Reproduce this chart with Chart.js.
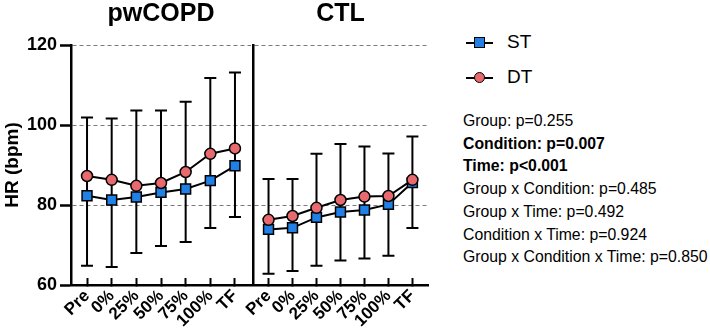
<!DOCTYPE html>
<html>
<head>
<meta charset="utf-8">
<script src="https://cdn.jsdelivr.net/npm/chart.js@4.4.1/dist/chart.umd.min.js"></script>
<style>
body{margin:0;background:#fff;}
#wrap{position:relative;width:710px;height:331px;background:#fff;font-family:"Liberation Sans",Arial,sans-serif;color:#000;}
canvas{position:absolute;top:0;}
.legItem{position:absolute;left:466px;height:20px;width:200px;}
.legLine{position:absolute;left:0;top:9px;width:27px;height:2px;background:#000;}
.legSq{position:absolute;left:8px;top:4px;width:9px;height:9px;background:#2080e6;border:1.5px solid #000;}
.legCirc{position:absolute;left:8px;top:4px;width:9px;height:9px;background:#e96a6e;border:1.5px solid #000;border-radius:50%;}
.legText{position:absolute;left:41px;top:-2px;font-size:19px;line-height:22px;}
#stats{position:absolute;left:463px;top:110px;font-size:15.8px;line-height:22.7px;white-space:nowrap;}
</style>
</head>
<body>
<div id="wrap">
<canvas id="copdChart" width="260" height="331" style="left:0"></canvas>
<canvas id="ctlChart" width="200" height="331" style="left:240px"></canvas>
<div class="legItem" style="top:33px"><div class="legLine"></div><div class="legSq"></div><div class="legText">ST</div></div>
<div class="legItem" style="top:68px"><div class="legLine"></div><div class="legCirc"></div><div class="legText">DT</div></div>
<div id="stats"></div>
</div>
<script>
// data (HR in bpm, mean and one-sided SD)
const timeLabels=["Pre","0%","25%","50%","75%","100%","TF"];
const yTicks=[60,80,100,120];

const copdST=[82.3,81.25,82.0,83.15,84.0,86.1,89.8];
const copdSTLow=[64.8,64.5,68.0,69.75,70.75,74.25,77.0];
const copdDT=[87.25,86.3,84.8,85.5,88.25,92.8,94.15];
const copdDTHigh=[101.9,101.65,103.6,103.6,105.8,111.75,113.15];

const ctlST=[73.9,74.3,76.9,78.25,78.75,80.15,85.6];
const ctlSTLow=[62.8,63.5,64.8,66.1,66.65,67.3,74.25];
const ctlDT=[76.3,77.25,79.3,81.25,82.1,82.25,86.3];
const ctlDTHigh=[86.5,86.5,92.8,95.25,94.6,92.9,97.15];

const statLines=[
["Group: p=0.255",false],
["Condition: p=0.007",true],
["Time: p<0.001",true],
["Group x Condition: p=0.485",false],
["Group x Time: p=0.492",false],
["Condition x Time: p=0.924",false],
["Group x Condition x Time: p=0.850",false]
];

const blue="#2080e6";
const red="#e96a6e";
const fam='"Liberation Sans", Arial, sans-serif';
Chart.defaults.font.family=fam;
Chart.defaults.color="#000";

let stats=document.getElementById("stats");
statLines.forEach(s=>{
let d=document.createElement("div");
d.innerText=s[0];
if(s[1]) d.style.fontWeight="bold";
stats.appendChild(d);
});

// vertical error bars: DT upwards, ST downwards
const errorBars={
id:"errorBars",
beforeDatasetsDraw(chart,args,opts){
let ctx=chart.ctx;
let x=chart.scales.x, y=chart.scales.y;
ctx.save();
ctx.strokeStyle="#000";
ctx.lineWidth=2;
opts.high.forEach((h,i)=>{
let px=x.getPixelForValue(i);
let top=y.getPixelForValue(h);
let bot=y.getPixelForValue(opts.low[i]);
ctx.beginPath();
ctx.moveTo(px,top);ctx.lineTo(px,bot);
ctx.moveTo(px-6,top);ctx.lineTo(px+6,top);
ctx.moveTo(px-6,bot);ctx.lineTo(px+6,bot);
ctx.stroke();
});
ctx.restore();
}
};

function pts(arr){
return arr.map((v,i)=>({x:i,y:v}));
}

function makeChart(id,title,st,stLow,dt,dtHigh,left){
let yAxis={
min:60,max:120,
afterBuildTicks:s=>{s.ticks=yTicks.map(v=>({value:v}));},
ticks:{display:left,font:{size:18,weight:"bold"},color:"#000",padding:3},
grid:{
color:c=>c.tick&&c.tick.value===60?"rgba(0,0,0,0)":"#7a7a7a",
lineWidth:1,
drawTicks:left,
tickLength:11,tickColor:"#000",tickWidth:2.5
},
border:{color:"#000",width:2.5,dash:[4,3]},
title:{display:left,text:"HR (bpm)",font:{size:19,weight:"bold"},color:"#000",padding:{top:1,bottom:0}},
afterFit:s=>{s.width=left?71:11;}
};
return new Chart(document.getElementById(id),{
type:"line",
data:{
datasets:[
{
label:"DT",
data:pts(dt),
borderColor:"#000",borderWidth:2,
pointStyle:"circle",pointRadius:5.5,
pointBackgroundColor:red,pointBorderColor:"#000",pointBorderWidth:1.5
},
{
label:"ST",
data:pts(st),
borderColor:"#000",borderWidth:2,
pointStyle:"rect",pointRadius:7,
pointBackgroundColor:blue,pointBorderColor:"#000",pointBorderWidth:1.5
}
]
},
options:{
responsive:false,
animation:false,
layout:{padding:{left:0,right:left?9:12,top:0,bottom:0}},
plugins:{
legend:{display:false},
tooltip:{enabled:false},
title:{display:true,text:title,fullSize:false,color:"#000",font:{size:25,weight:"bold",lineHeight:1.1},padding:{top:0,bottom:17.5}},
errorBars:{high:dtHigh,low:stLow}
},
scales:{
x:{
type:"linear",min:-0.65,max:6.65,
afterBuildTicks:s=>{s.ticks=timeLabels.map((_,i)=>({value:i}));},
ticks:{callback:v=>timeLabels[v],autoSkip:false,minRotation:45,maxRotation:45,font:{size:17,weight:"bold"},color:"#000",padding:8},
grid:{drawOnChartArea:false,tickLength:-7,tickColor:"#000",tickWidth:2},
border:{color:"#000",width:2.5},
afterFit:s=>{s.height=46;}
},
y:yAxis
}
},
plugins:[errorBars]
});
}

makeChart("copdChart","pwCOPD",copdST,copdSTLow,copdDT,copdDTHigh,true);
makeChart("ctlChart","CTL",ctlST,ctlSTLow,ctlDT,ctlDTHigh,false);
</script>
</body>
</html>
